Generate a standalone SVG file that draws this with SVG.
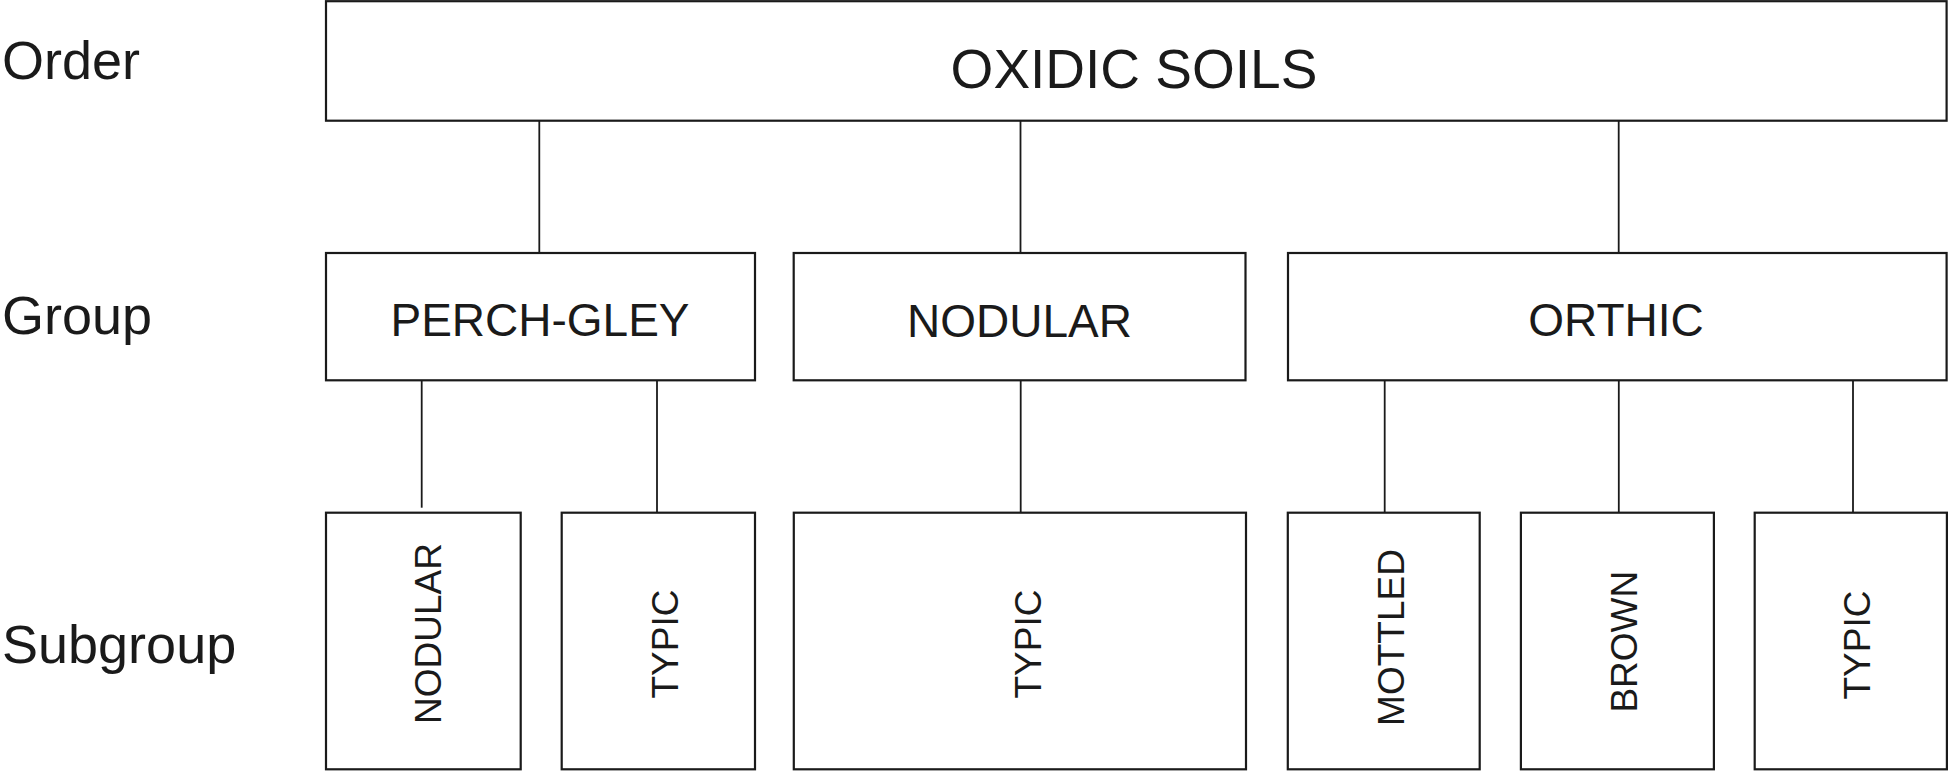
<svg xmlns="http://www.w3.org/2000/svg" width="1948" height="771" viewBox="0 0 1948 771">
<style>
.box{fill:#fff;stroke:#1a1a1a;stroke-width:2.2}
.con{stroke:#1a1a1a;stroke-width:1.8;fill:none}
text{font-family:"Liberation Sans",Arial,sans-serif;fill:#1a1a1a}
.lbl{font-size:54px}
.top{font-size:55px;text-anchor:middle}
.grp{font-size:46px;text-anchor:middle}
.sub{font-size:37px;text-anchor:middle}
</style>
<rect width="1948" height="771" fill="#fff"/>
<g id="level-labels">
<text class="lbl" x="2" y="79">Order</text>
<text class="lbl" x="2" y="334">Group</text>
<text class="lbl" x="2" y="663">Subgroup</text>
</g>
<g id="connectors">
<line class="con" x1="539.3" y1="120.7" x2="539.3" y2="253"/>
<line class="con" x1="1020.5" y1="119" x2="1020.5" y2="253"/>
<line class="con" x1="1618.7" y1="120.7" x2="1618.7" y2="253"/>
<line class="con" x1="421.7" y1="378" x2="421.7" y2="507.7"/>
<line class="con" x1="657" y1="380.3" x2="657" y2="512.7"/>
<line class="con" x1="1020.7" y1="380.3" x2="1020.7" y2="512.7"/>
<line class="con" x1="1384.7" y1="380.3" x2="1384.7" y2="512.7"/>
<line class="con" x1="1618.8" y1="380.3" x2="1618.8" y2="512.7"/>
<line class="con" x1="1853" y1="380.3" x2="1853" y2="512.7"/>
</g>
<g id="oxidic-soils">
<rect class="box" x="326" y="1.2" width="1620.6" height="119.5"/>
<text class="top" x="1134" y="88.3">OXIDIC SOILS</text>
</g>
<g id="perch-gley">
<rect class="box" x="326" y="253" width="429" height="127.3"/>
<text class="grp" x="540" y="336">PERCH-GLEY</text>
</g>
<g id="nodular-group">
<rect class="box" x="793.7" y="253" width="451.8" height="127.3"/>
<text class="grp" x="1019.5" y="336.5">NODULAR</text>
</g>
<g id="orthic">
<rect class="box" x="1288" y="253" width="658.6" height="127.3"/>
<text class="grp" x="1616" y="336">ORTHIC</text>
</g>
<g id="pg-nodular">
<rect class="box" x="326" y="512.7" width="194.7" height="256.6"/>
<text class="sub" transform="translate(441,633.5) rotate(-90)">NODULAR</text>
</g>
<g id="pg-typic">
<rect class="box" x="561.7" y="512.7" width="193.3" height="256.6"/>
<text class="sub" transform="translate(678,644) rotate(-90)">TYPIC</text>
</g>
<g id="nod-typic">
<rect class="box" x="793.8" y="512.7" width="452.2" height="256.6"/>
<text class="sub" transform="translate(1041,644) rotate(-90)">TYPIC</text>
</g>
<g id="orthic-mottled">
<rect class="box" x="1287.8" y="512.7" width="191.9" height="256.6"/>
<text class="sub" transform="translate(1403.5,637.5) rotate(-90)">MOTTLED</text>
</g>
<g id="orthic-brown">
<rect class="box" x="1520.9" y="512.7" width="193" height="256.6"/>
<text class="sub" transform="translate(1637,641.7) rotate(-90)">BROWN</text>
</g>
<g id="orthic-typic">
<rect class="box" x="1754.7" y="512.7" width="192.2" height="256.6"/>
<text class="sub" transform="translate(1870,645) rotate(-90)">TYPIC</text>
</g>
</svg>
